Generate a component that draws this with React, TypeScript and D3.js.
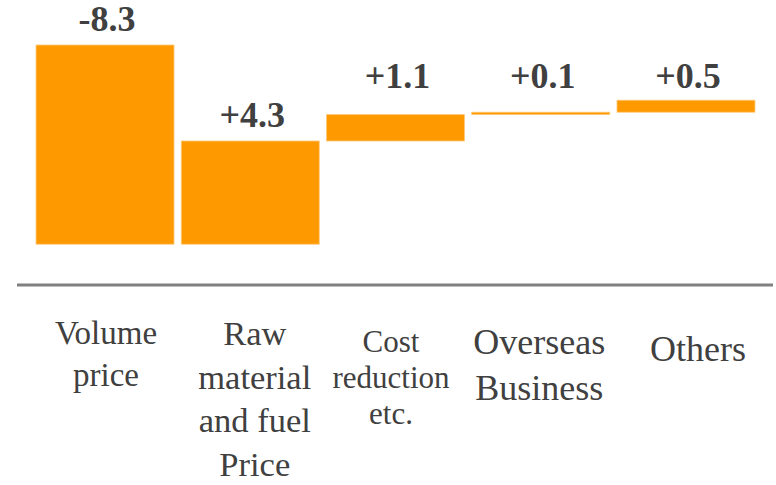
import React from "react";
import * as d3 from "d3";

// Profit bridge: contribution of each factor (waterfall from 0)
const categories = [
  "Volume\nprice",
  "Raw\nmaterial\nand fuel\nPrice",
  "Cost\nreduction\netc.",
  "Overseas\nBusiness",
  "Others",
];
const deltas = [-8.3, 4.3, 1.1, 0.1, 0.5];
const yDomain: [number, number] = [-10, 0];
// small steps share one label row at this value level
const labelRowLevel = -1.8;
const smallStep = 2;

// Typography of the category labels (size, line gap, first baseline, nudge)
const catStyle = [
  { size: 33, gap: 42, base: 344, dx: 1 },
  { size: 34.5, gap: 43.5, base: 345, dx: 4.5 },
  { size: 31, gap: 36, base: 352, dx: -4.5 },
  { size: 36, gap: 46, base: 354, dx: -1.5 },
  { size: 36, gap: 46, base: 361, dx: 12 },
];

const W = 776;
const H = 485;
const ORANGE = "#FF9900";
const TEXT = "#404040";
const FONT = "Liberation Serif, Tinos, DejaVu Serif, serif";

const fmt = (v: number) => (v > 0 ? "+" : "-") + Math.abs(v).toFixed(1);

export default function App() {
  const x = d3
    .scaleBand<string>()
    .domain(categories)
    .range([32.4, 758.6])
    .paddingInner(0.05)
    .paddingOuter(0.025);
  const y = d3.scaleLinear().domain(yDomain).range([285, 45]);

  let running = 0;
  const steps = deltas.map((d, i) => {
    const start = running;
    running += d;
    return { cat: categories[i], d, start, end: running };
  });

  return (
    <svg
      width={W}
      height={H}
      style={{ position: "absolute", left: 0, top: 0, background: "#fff", fontFamily: FONT }}
    >
      {steps.map((s) => {
        const top = y(Math.max(s.start, s.end));
        const bottom = y(Math.min(s.start, s.end));
        const x0 = x(s.cat)!;
        const cx = x0 + x.bandwidth() / 2;
        const ly = Math.abs(s.d) >= smallStep ? top - 14 : y(labelRowLevel);
        return (
          <g key={s.cat}>
            <rect
              x={x0}
              y={top}
              width={x.bandwidth()}
              height={Math.max(bottom - top, 1)}
              fill={ORANGE}
              stroke="#FFC977"
              strokeWidth={0.8}
            />
            <text
              x={cx + 2}
              y={ly}
              textAnchor="middle"
              style={{ fontFamily: FONT, fontSize: 36, fontWeight: "bold" }}
              fill={TEXT}
            >
              {fmt(s.d)}
            </text>
          </g>
        );
      })}

      <line
        x1={17}
        x2={773}
        y1={y(yDomain[0])}
        y2={y(yDomain[0])}
        stroke="#808080"
        strokeWidth={3}
      />

      {categories.map((c, i) => {
        const st = catStyle[i];
        const cx = x(c)! + x.bandwidth() / 2 + st.dx;
        return (
          <text
            key={c}
            x={cx}
            y={st.base}
            textAnchor="middle"
            style={{ fontFamily: FONT, fontSize: st.size }}
            fill={TEXT}
          >
            {c.split("\n").map((line, j) => (
              <tspan key={j} x={cx} y={st.base + j * st.gap}>
                {line}
              </tspan>
            ))}
          </text>
        );
      })}
    </svg>
  );
}
